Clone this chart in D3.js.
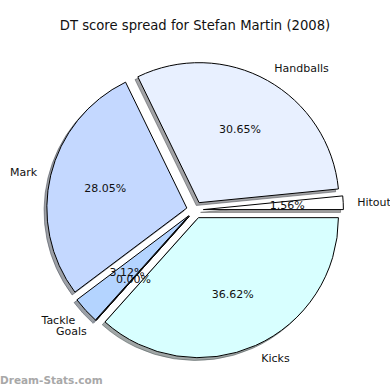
<!DOCTYPE html>
<html>
<head>
<meta charset="utf-8">
<script src="https://cdn.jsdelivr.net/npm/d3@7"></script>
<style>
  body { margin: 0; background: #fff; }
  svg { display: block; }
  text { font-family: "DejaVu Sans", sans-serif; }
</style>
</head>
<body>
<div id="chart"></div>
<script>
// slice data, in drawing order (counter-clockwise from 3 o'clock)
var labels = ["Hitouts", "Handballs", "Mark", "Tackle", "Goals", "Kicks"];
var shares = [1.56, 30.65, 28.05, 3.12, 0.00, 36.62];
var colors = ["#ffffff", "#e8f0ff", "#c4d8ff", "#b4d4ff", "#aaccff", "#d8ffff"];

var width = 390, height = 390;
var cx = 195, cy = 210, radius = 140;
var explode = 0.06 * radius;

var svg = d3.select("#chart").append("svg")
    .attr("width", width)
    .attr("height", height);

svg.append("text")
    .attr("x", 195)
    .attr("y", 30)
    .attr("text-anchor", "middle")
    .style("font-size", "13.2px")
    .style("fill", "#111")
    .text("DT score spread for Stefan Martin (2008)");

// matplotlib style: start at 3 o'clock and go counter-clockwise
var pie = d3.pie().sort(null)
    .startAngle(Math.PI / 2)
    .endAngle(Math.PI / 2 - 2 * Math.PI);

var arcs = pie(shares).map(function (d, i) {
    var mid = (d.startAngle + d.endAngle) / 2;
    d.label = labels[i];
    d.color = colors[i];
    d.ux = Math.sin(mid);
    d.uy = -Math.cos(mid);
    d.dx = d.ux * explode;
    d.dy = d.uy * explode;
    return d;
});

var arc = d3.arc().innerRadius(0).outerRadius(radius);

var g = svg.append("g").attr("transform", "translate(" + cx + "," + cy + ")");

function shade(d) {
    var c = d3.rgb(d.color);
    return d3.rgb(c.r * 0.3, c.g * 0.3, c.b * 0.3);
}

// shadows go beneath every wedge
g.selectAll("path.shadow")
    .data(arcs)
    .enter().append("path")
    .attr("class", "shadow")
    .attr("transform", function (d) { return "translate(" + (d.dx - 2.8) + "," + (d.dy + 2.8) + ")"; })
    .attr("d", arc)
    .style("fill", shade)
    .style("fill-opacity", 0.5)
    .style("stroke", shade)
    .style("stroke-opacity", 0.5)
    .style("stroke-width", 1);

g.selectAll("path.wedge")
    .data(arcs)
    .enter().append("path")
    .attr("class", "wedge")
    .attr("transform", function (d) { return "translate(" + d.dx + "," + d.dy + ")"; })
    .attr("d", arc)
    .style("fill", function (d) { return d.color; })
    .style("stroke", "#000")
    .style("stroke-width", 1);

// outer labels
g.selectAll("text.name")
    .data(arcs)
    .enter().append("text")
    .attr("class", "name")
    .attr("x", function (d) { return d.dx + d.ux * radius * 1.1; })
    .attr("y", function (d) { return d.dy + d.uy * radius * 1.1; })
    .attr("dy", "0.35em")
    .attr("text-anchor", function (d) { return d.dx + d.ux * radius * 1.1 > 0 ? "start" : "end"; })
    .style("font-size", "11px")
    .style("fill", "#111")
    .text(function (d) { return d.label; });

// percentages
g.selectAll("text.pct")
    .data(arcs)
    .enter().append("text")
    .attr("class", "pct")
    .attr("x", function (d) { return d.dx + d.ux * radius * 0.6; })
    .attr("y", function (d) { return d.dy + d.uy * radius * 0.6; })
    .attr("dy", "0.35em")
    .attr("text-anchor", "middle")
    .style("font-size", "11px")
    .style("fill", "#111")
    .text(function (d) { return d.data.toFixed(2) + "%"; });

svg.append("text")
    .attr("x", 0)
    .attr("y", 384)
    .style("font-size", "10.5px")
    .style("font-weight", "bold")
    .style("fill", "#a8a8a8")
    .text("Dream-Stats.com");
</script>
</body>
</html>
